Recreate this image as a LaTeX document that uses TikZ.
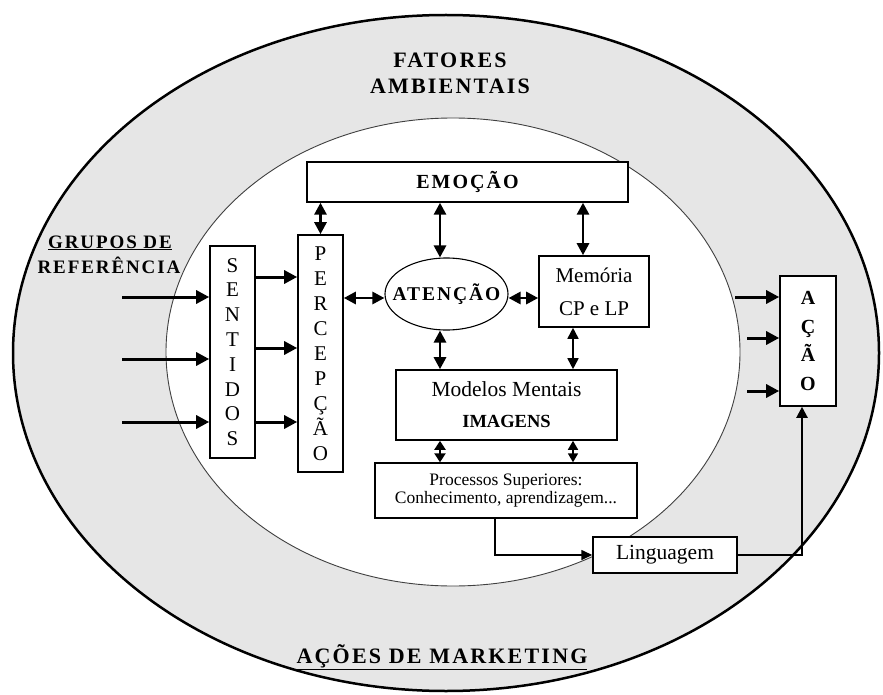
\documentclass[tikz,border=0pt]{standalone}
\usepackage{fontspec}
\setmainfont{Liberation Serif}
\newfontfamily\spaced[LetterSpace=10]{Liberation Serif}
\usetikzlibrary{arrows.meta,shapes.geometric}
\definecolor{ringgray}{HTML}{E6E6E6}
\begin{document}
\begin{tikzpicture}[x=1pt,y=-1pt,
  box/.style={draw, line width=1.6pt, fill=white, inner sep=0pt, align=center},
  arr/.style={line width=3pt, -{Triangle[length=13pt,width=13pt]}},
  biarr/.style={line width=2.8pt, {Triangle[length=12pt,width=12pt]}-{Triangle[length=12pt,width=12pt]}},
  shortbi/.style={line width=2.8pt, {Triangle[length=9pt,width=11pt]}-{Triangle[length=9pt,width=11pt]}},
  thinbi/.style={line width=1.7pt, {Triangle[length=11pt,width=11pt]}-{Triangle[length=11pt,width=11pt]}},
  thinshort/.style={line width=1.7pt, {Triangle[length=9pt,width=10pt]}-{Triangle[length=9pt,width=10pt]}},
  thinarr/.style={line width=1.4pt, -{Triangle[length=11pt,width=10pt]}},
  midarr/.style={line width=2.2pt, -{Triangle[length=11pt,width=11pt]}},
  title/.style={font=\spaced\bfseries\fontsize{22}{26}\selectfont, align=center, inner sep=0pt}
]
\useasboundingbox (0,0) rectangle (883,695);
% rings
\draw[line width=2.5pt, fill=ringgray] (446,353) ellipse [x radius=433, y radius=338];
\draw[line width=0.9pt, draw=black!75, fill=white] (453,352) ellipse [x radius=287, y radius=234];

% texts
\node[title, anchor=base] (fat) at (450,68) {FATORES};
\node[title, anchor=base] (amb) at (450,94) {AMBIENTAIS};
\node[title, anchor=base, font=\spaced\bfseries\fontsize{19}{22}\selectfont] (gru) at (110,248) {\underline{GRUPOS DE}};
\node[title, anchor=base, font=\spaced\bfseries\fontsize{19}{22}\selectfont] (ref) at (109,273) {REFERÊNCIA};
\node[title, anchor=base, font=\spaced\bfseries\fontsize{22}{24}\selectfont] (mkt) at (442,663) {\underline{AÇÕES DE MARKETING}};

% boxes
\node[box, line width=1.4pt, minimum width=321pt, minimum height=40pt, font=\spaced\bfseries\fontsize{20}{22}\selectfont] (emo) at (467.5,182) {EMOÇÃO};
\node[box, minimum width=45pt, minimum height=212pt, font=\fontsize{21}{24.8}\selectfont] (sent) at (232.5,352) {S\\E\\N\\T\\I\\D\\O\\S};
\node[box, minimum width=45pt, minimum height=237pt, font=\fontsize{21}{25}\selectfont] (perc) at (320.5,353.5) {P\\E\\R\\C\\E\\P\\Ç\\Ã\\O};
\node[draw, line width=1.1pt, ellipse, fill=white, inner sep=0pt, minimum width=123pt, minimum height=72pt] (aten) at (446.5,294) {};
\node[inner sep=0pt, font=\spaced\bfseries\fontsize{19.5}{22}\selectfont] (atentxt) at (aten.center) {ATENÇÃO};
\node[box, minimum width=110pt, minimum height=71pt, font=\fontsize{21}{33}\selectfont] (mem) at (594,291.5) {Memória\\CP e LP};
\node[box, minimum width=221pt, minimum height=70pt, font=\fontsize{21.5}{31}\selectfont] (mod) at (506.5,405) {Modelos Mentais\\{\bfseries\fontsize{18.5}{31}\selectfont IMAGENS}};
\node[box, line width=1.4pt, minimum width=262pt, minimum height=55pt, font=\fontsize{17.5}{18.5}\selectfont] (proc) at (506,490.5) {Processos Superiores:\\Conhecimento, aprendizagem...};
\node[box, line width=1.4pt, minimum width=144pt, minimum height=36pt, font=\fontsize{21.5}{24}\selectfont] (ling) at (665,555) {Linguagem};
\node[box, minimum width=56pt, minimum height=130pt, font=\bfseries\fontsize{20}{28.7}\selectfont] (acao) at (808,341) {A\\Ç\\Ã\\O};

% coordinates
\coordinate (i1) at (122,297);
\coordinate (i2) at (122,359);
\coordinate (i3) at (122,422);
\coordinate (s1) at (0,277);
\coordinate (s2) at (0,348);
\coordinate (s3) at (0,422);
\coordinate (a1) at (735,297);
\coordinate (a2) at (747,338);
\coordinate (a3) at (747,391);
\coordinate (cx1) at (440,0);
\coordinate (cx2) at (573,0);
\coordinate (cx3) at (583,0);
\coordinate (cx4) at (495,0);
\coordinate (cx5) at (802,0);
\coordinate (ry) at (0,298);

% input arrows
\draw[arr] (i1) -- (i1 -| sent.west);
\draw[arr] (i2) -- (i2 -| sent.west);
\draw[arr] (i3) -- (i3 -| sent.west);
\draw[arr] (sent.east |- s1) -- (perc.west |- s1);
\draw[arr] (sent.east |- s2) -- (perc.west |- s2);
\draw[arr] (sent.east |- s3) -- (perc.west |- s3);

% bidirectional
\draw[biarr] (perc.east |- ry) -- (aten.west |- ry);
\draw[biarr] (aten.east |- ry) -- (mem.west |- ry);
\draw[biarr] (emo.south -| perc.north) -- (perc.north);
\draw[biarr] (emo.south -| cx1) -- (aten.north -| cx1);
\draw[biarr] (emo.south -| cx3) -- (mem.north -| cx3);
\draw[biarr] (aten.south -| cx1) -- (mod.north -| cx1);
\draw[thinbi] (mem.south -| cx2) -- (mod.north -| cx2);
\draw[shortbi] (mod.south -| cx1) -- (proc.north -| cx1);
\draw[thinshort] (mod.south -| cx2) -- (proc.north -| cx2);

% to action
\draw[arr] (a1) -- (a1 -| acao.west);
\draw[arr] (a2) -- (a2 -| acao.west);
\draw[arr] (a3) -- (a3 -| acao.west);
\draw[thinarr] (proc.south -| cx4) |- (ling.west);
\draw[midarr] (ling.east) -| (acao.south -| cx5);
\end{tikzpicture}
\end{document}
